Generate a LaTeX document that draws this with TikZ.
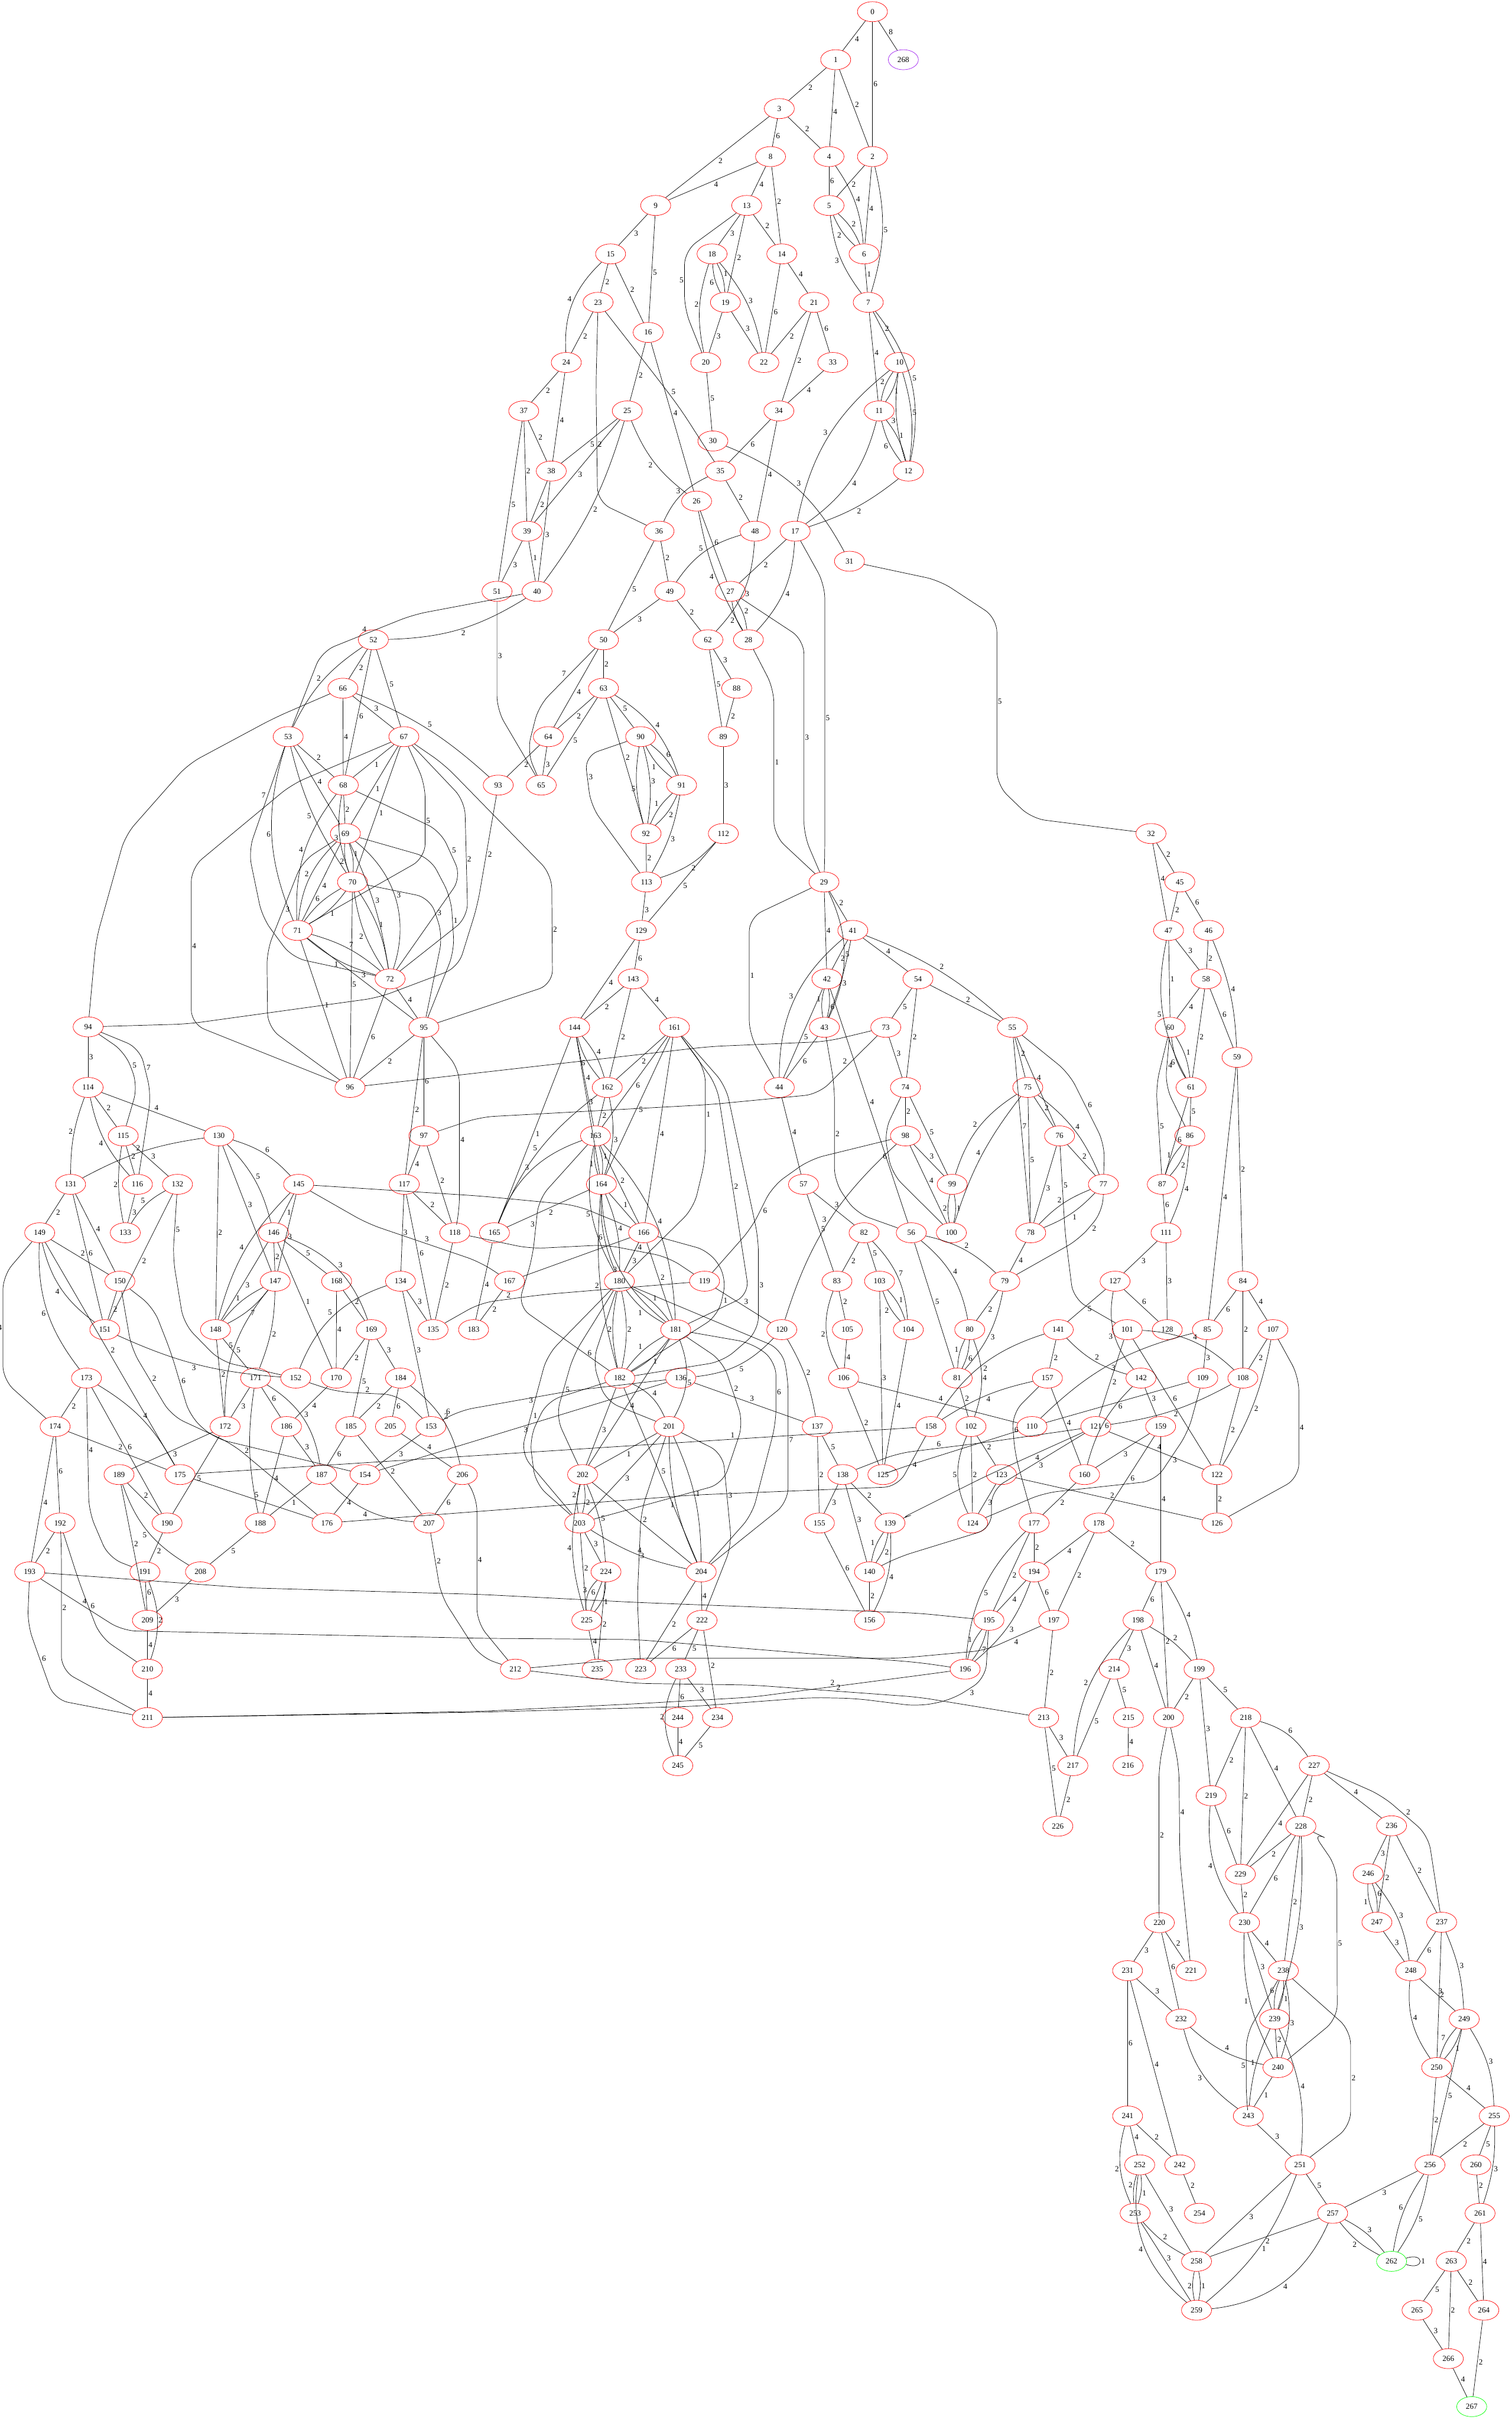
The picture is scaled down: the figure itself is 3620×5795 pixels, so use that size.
\documentclass[tikz,border=0pt]{standalone}
\usepackage{fontspec}
\setmainfont{Liberation Serif}
\usetikzlibrary{shapes.geometric}
\definecolor{gvpurple}{RGB}{160,32,240}
\definecolor{gvgreen}{RGB}{0,255,0}
\tikzset{
 nd/.style={ellipse, draw=red, line width=0.75pt, minimum width=54pt, minimum height=36pt, inner sep=0pt, font=\fontsize{14pt}{14pt}\selectfont},
 lbl/.style={font=\fontsize{14pt}{14pt}\selectfont, inner sep=1.5pt, auto},
 rc/.style={rounded corners=25pt}
}
\newcommand\gn[3]{\node[nd] (n#1) at (#2,#3) {#1};}
\newcommand\edg[3]{\draw (n#1) -- node[lbl]{#3} (n#2);}
\newcommand\edgd[4]{\draw (n#1) to[bend left=12] node[lbl]{#3} (n#2);\draw (n#1) to[bend right=12] node[lbl,swap]{#4} (n#2);}
\newcommand\bl[4]{\draw (n#1) to[bend left=#4] node[lbl]{#3} (n#2);}
\newcommand\br[4]{\draw (n#1) to[bend right=#4] node[lbl,swap]{#3} (n#2);}
\begin{document}
\begin{tikzpicture}[x=0.75pt,y=-0.75pt,line width=0.75pt]
\fill[white] (0,0) rectangle (3620,5795);
\useasboundingbox (0,0) rectangle (3620,5795);
% nodes
\gn{0}{2089}{28}\gn{1}{2001}{143}\gn{2}{2089}{375}\gn{3}{1866}{260}\gn{4}{1985}{375}
\gn{5}{1985}{492}\gn{6}{2069}{608}\gn{7}{2079}{724}\gn{8}{1845}{375}\gn{9}{1570}{492}
\gn{10}{2154}{868}\gn{11}{2105}{984}\gn{12}{2175}{1128}\gn{13}{1788}{492}\gn{14}{1872}{608}
\gn{15}{1462}{608}\gn{16}{1552}{796}\gn{17}{1904}{1272}\gn{18}{1705}{608}\gn{19}{1737}{724}
\gn{20}{1690}{868}\gn{21}{1949}{724}\gn{22}{1829}{868}\gn{23}{1432}{724}\gn{24}{1356}{868}
\gn{25}{1502}{984}\gn{26}{1668}{1200}\gn{27}{1749}{1416}\gn{28}{1792}{1532}\gn{29}{1973}{2112}
\gn{30}{1707}{1056}\gn{31}{2034}{1344}\gn{32}{2756}{1996}\gn{33}{1994}{868}\gn{34}{1865}{984}
\gn{35}{1725}{1128}\gn{36}{1578}{1272}\gn{37}{1254}{984}\gn{38}{1320}{1128}\gn{39}{1262}{1272}
\gn{40}{1286}{1416}\gn{41}{2042}{2228}\gn{42}{1980}{2344}\gn{43}{1974}{2460}\gn{44}{1866}{2604}
\gn{45}{2825}{2112}\gn{46}{2894}{2228}\gn{47}{2798}{2228}\gn{48}{1808}{1272}\gn{49}{1604}{1416}
\gn{50}{1445}{1532}\gn{51}{1190}{1416}\gn{52}{894}{1532}\gn{53}{690}{1764}\gn{54}{2198}{2344}
\gn{55}{2424}{2460}\gn{56}{2182}{2952}\gn{57}{1924}{2836}\gn{58}{2888}{2344}\gn{59}{2962}{2532}
\gn{60}{2802}{2460}\gn{61}{2852}{2604}\gn{62}{1695}{1532}\gn{63}{1445}{1648}\gn{64}{1313}{1764}
\gn{65}{1296}{1880}\gn{66}{821}{1648}\gn{67}{967}{1764}\gn{68}{822}{1880}\gn{69}{827}{1996}
\gn{70}{844}{2112}\gn{71}{712}{2228}\gn{72}{934}{2344}\gn{73}{2121}{2460}\gn{74}{2168}{2604}
\gn{75}{2461}{2604}\gn{76}{2537}{2720}\gn{77}{2642}{2836}\gn{78}{2468}{2952}\gn{79}{2406}{3068}
\gn{80}{2322}{3184}\gn{81}{2292}{3300}\gn{82}{2069}{2952}\gn{83}{2004}{3068}\gn{84}{2976}{3068}
\gn{85}{2891}{3184}\gn{86}{2849}{2720}\gn{87}{2783}{2836}\gn{88}{1764}{1648}\gn{89}{1732}{1764}
\gn{90}{1534}{1764}\gn{91}{1632}{1880}\gn{92}{1547}{1996}\gn{93}{1193}{1880}\gn{94}{211}{2459}
\gn{95}{1015}{2460}\gn{96}{838}{2604}\gn{97}{1015}{2720}\gn{98}{2168}{2720}\gn{99}{2280}{2836}
\gn{100}{2278}{2952}\gn{101}{2699}{3184}\gn{102}{2325}{3416}\gn{103}{2106}{3068}\gn{104}{2175}{3184}
\gn{105}{2029}{3184}\gn{106}{2020}{3300}\gn{107}{3048}{3184}\gn{108}{2976}{3300}\gn{109}{2880}{3300}
\gn{110}{2471}{3416}\gn{111}{2792}{2952}\gn{112}{1732}{1996}\gn{113}{1548}{2112}\gn{114}{211}{2604}
\gn{115}{295}{2720}\gn{116}{329}{2836}\gn{117}{968}{2836}\gn{118}{1089}{2952}\gn{119}{1687}{3068}
\gn{120}{1872}{3184}\gn{121}{2624}{3416}\gn{122}{2914}{3531}\gn{123}{2398}{3531}\gn{124}{2329}{3647}
\gn{125}{2114}{3531}\gn{126}{2914}{3647}\gn{127}{2670}{3068}\gn{128}{2795}{3184}\gn{129}{1535}{2228}
\gn{130}{524}{2720}\gn{131}{169}{2836}\gn{132}{425}{2836}\gn{133}{300}{2952}\gn{134}{959}{3068}
\gn{135}{1037}{3184}\gn{136}{1630}{3300}\gn{137}{1957}{3416}\gn{138}{2018}{3531}\gn{139}{2131}{3647}
\gn{140}{2082}{3764}\gn{141}{2534}{3184}\gn{142}{2732}{3300}\gn{143}{1516}{2344}\gn{144}{1376}{2460}
\gn{145}{715}{2836}\gn{146}{655}{2952}\gn{147}{659}{3068}\gn{148}{516}{3184}\gn{149}{95}{2952}
\gn{150}{287}{3068}\gn{151}{251}{3184}\gn{152}{708}{3300}\gn{153}{1032}{3416}\gn{154}{874}{3531}
\gn{155}{1962}{3647}\gn{156}{2082}{3880}\gn{157}{2508}{3300}\gn{158}{2229}{3416}\gn{159}{2779}{3416}
\gn{160}{2597}{3531}\gn{161}{1615}{2460}\gn{162}{1454}{2604}\gn{163}{1426}{2720}\gn{164}{1440}{2836}
\gn{165}{1184}{2952}\gn{166}{1541}{2952}\gn{167}{1220}{3068}\gn{168}{806}{3068}\gn{169}{889}{3184}
\gn{170}{805}{3300}\gn{171}{612}{3300}\gn{172}{539}{3416}\gn{173}{207}{3300}\gn{174}{132}{3416}
\gn{175}{431}{3531}\gn{176}{783}{3647}\gn{177}{2476}{3647}\gn{178}{2631}{3647}\gn{179}{2779}{3764}
\gn{180}{1483}{3068}\gn{181}{1618}{3184}\gn{182}{1484}{3300}\gn{183}{1134}{3184}\gn{184}{959}{3300}
\gn{185}{840}{3416}\gn{186}{686}{3416}\gn{187}{770}{3531}\gn{188}{623}{3647}\gn{189}{285}{3531}
\gn{190}{400}{3647}\gn{191}{347}{3764}\gn{192}{144}{3647}\gn{193}{71}{3764}\gn{194}{2476}{3764}
\gn{195}{2368}{3880}\gn{196}{2311}{3997}\gn{197}{2523}{3880}\gn{198}{2725}{3880}\gn{199}{2871}{3997}
\gn{200}{2798}{4113}\gn{201}{1602}{3416}\gn{202}{1395}{3531}\gn{203}{1388}{3647}\gn{204}{1679}{3764}
\gn{205}{935}{3416}\gn{206}{1107}{3531}\gn{207}{1027}{3647}\gn{208}{480}{3764}\gn{209}{353}{3880}
\gn{210}{353}{3997}\gn{211}{353}{4113}\gn{212}{1234}{3997}\gn{213}{2499}{4113}\gn{214}{2668}{3997}
\gn{215}{2702}{4113}\gn{216}{2701}{4228}\gn{217}{2569}{4228}\gn{218}{2983}{4113}\gn{219}{2900}{4300}
\gn{220}{2776}{4604}\gn{221}{2852}{4719}\gn{222}{1681}{3880}\gn{223}{1534}{3997}\gn{224}{1451}{3764}
\gn{225}{1405}{3880}\gn{226}{2533}{4373}\gn{227}{3147}{4228}\gn{228}{3115}{4373}\gn{229}{2970}{4488}
\gn{230}{2980}{4604}\gn{231}{2700}{4719}\gn{232}{2828}{4835}\gn{233}{1630}{3997}\gn{234}{1718}{4113}
\gn{235}{1430}{3997}\gn{236}{3332}{4372}\gn{237}{3452}{4603}\gn{238}{3073}{4719}\gn{239}{3052}{4835}
\gn{240}{3060}{4951}\gn{241}{2700}{5067}\gn{242}{2825}{5184}\gn{243}{2989}{5067}\gn{244}{1623}{4113}
\gn{245}{1623}{4228}\gn{246}{3276}{4487}\gn{247}{3297}{4603}\gn{248}{3378}{4719}\gn{249}{3506}{4835}
\gn{250}{3440}{4951}\gn{251}{3113}{5184}\gn{252}{2729}{5184}\gn{253}{2718}{5300}\gn{254}{2872}{5300}
\gn{255}{3578}{5067}\gn{256}{3424}{5184}\gn{257}{3191}{5300}\gn{258}{2865}{5415}\gn{259}{2865}{5532}
\gn{260}{3534}{5184}\gn{261}{3544}{5300}\gn{263}{3475}{5415}\gn{264}{3553}{5532}
\gn{265}{3393}{5532}\gn{266}{3468}{5648}
\node[nd,draw=gvgreen] (n262) at (3332,5415) {262};
\node[nd,draw=gvgreen] (n267) at (3524,5763) {267};
\node[nd,draw=gvpurple] (n268) at (2163,143) {268};
% ---------- edges: top
\edg{0}{1}{4}\edg{0}{268}{8}\edg{0}{2}{6}\edg{1}{3}{2}\edg{1}{4}{4}\edg{1}{2}{2}
\edg{3}{9}{2}\edg{3}{8}{6}\edg{3}{4}{2}\edg{8}{9}{4}\edg{8}{13}{4}\edg{8}{14}{2}
\edg{4}{5}{6}\bl{4}{6}{4}{15}\edg{2}{5}{2}\edg{2}{6}{4}\bl{2}{7}{5}{15}
\edg{9}{15}{3}\edg{9}{16}{5}\edg{13}{18}{3}\edg{13}{19}{2}\edg{13}{14}{2}
\draw[rc] (n13) -- (1639,601) -- node[lbl,swap]{5} (1639,740) -- (n20);
\edgd{5}{6}{2}{2}\br{5}{7}{3}{15}\edg{6}{7}{1}
\br{15}{24}{4}{25}\edg{15}{23}{2}\edg{15}{16}{2}
\edgd{18}{19}{1}{6}\br{18}{20}{2}{15}\bl{18}{22}{3}{15}\edg{14}{22}{6}\edg{14}{21}{4}
\edg{23}{24}{2}
\draw[rc] (n23) -- (1427,925) -- node[lbl]{2} (1431,1202) -- (n36);
\draw[rc] (n23) -- (1581,915) -- node[lbl]{5} (1630,980) -- (n35);
\edg{19}{20}{3}\edg{19}{22}{3}\edg{21}{22}{2}\edg{21}{34}{2}\edg{21}{33}{6}
\edg{7}{10}{2}\edg{7}{11}{4}\bl{7}{12}{5}{25}\edg{16}{25}{2}\edg{16}{26}{4}
\edg{24}{37}{2}\edg{24}{38}{4}\edg{20}{30}{5}\edg{33}{34}{4}
\edgd{10}{11}{1}{2}\edgd{10}{12}{5}{3}\br{10}{17}{3}{20}\edgd{11}{12}{1}{6}
\bl{11}{17}{4}{20}\bl{12}{17}{2}{10}
\edg{37}{38}{2}\edg{37}{39}{2}\edg{37}{51}{5}\edg{25}{38}{5}\edg{25}{39}{3}
\bl{25}{40}{2}{10}\br{25}{26}{2}{15}\edg{34}{35}{6}\edg{34}{48}{4}\bl{30}{31}{3}{20}
\edg{38}{39}{2}\edg{38}{40}{3}\br{35}{36}{3}{20}\edg{35}{48}{2}\edg{26}{27}{6}
\br{26}{28}{4}{10}\edg{39}{51}{3}\edg{39}{40}{1}\edg{36}{49}{2}\edg{36}{50}{5}
\br{48}{49}{5}{20}\bl{48}{62}{3}{20}\edg{17}{27}{2}\bl{17}{28}{4}{20}
\draw[rc] (n17) -- (1975,1400) -- node[lbl]{5} (1975,2040) -- (n29);
\draw[rc] (n27) -- (1925,1532) -- node[lbl]{3} (1925,2000) -- (n29);
\edgd{27}{28}{2}{2}
\draw[rc] (n28) -- (1853,1650) -- node[lbl]{1} (1853,2000) -- (n29);
\draw[rc] (n31) -- (2250,1390) -- (2387,1480) -- node[lbl]{5} (2387,1880) -- (2470,1960) -- (n32);
% ---------- crop 2
\draw[rc] (n40) -- (989,1472) -- node[lbl,swap]{4} (770,1560) -- (n53);
\bl{40}{52}{2}{15}
\draw[rc] (n51) -- node[lbl]{3} (1190,1700) -- (n65);
\edg{49}{50}{3}\edg{49}{62}{2}\br{52}{53}{2}{15}\edg{52}{66}{2}\edg{52}{68}{6}\edg{52}{67}{5}
\edg{66}{67}{3}\edg{66}{68}{4}\bl{66}{93}{5}{10}
\draw[rc] (n66) -- (657,1719) -- (450,1830) -- (300,2000) -- (230,2250) -- (n94);
\edg{50}{63}{2}\edg{50}{64}{4}
\draw[rc] (n50) -- node[lbl,swap]{7} (1290,1690) -- (1262,1800) -- (n65);
\edg{62}{89}{5}\edg{62}{88}{3}\edg{88}{89}{2}\edg{63}{64}{2}\edg{63}{65}{5}\edg{63}{90}{5}
\bl{63}{91}{4}{20}\edg{63}{92}{2}\edg{53}{68}{2}\edg{53}{69}{4}\br{53}{70}{5}{10}\br{53}{71}{6}{20}
\draw[rc] (n53) -- node[lbl,swap]{7} (595,2038) -- (628,2197) -- (699,2293) -- (n72);
\edg{67}{68}{1}\edg{67}{69}{1}\edg{67}{70}{1}
\draw[rc] (n67) -- (1018,1878) -- node[lbl]{5} (1018,2054) -- (n71);
\draw[rc] (n67) -- (1113,1918) -- node[lbl]{2} (1120,2197) -- (n72);
\draw[rc] (n67) -- (1063,1830) -- (1321,2094) -- node[lbl]{2} (1323,2357) -- (n95);
\draw[rc] (n67) -- (699,1878) -- (458,2078) -- node[lbl]{4} (458,2452) -- (n96);
\edg{64}{65}{3}\edg{64}{93}{2}\edgd{90}{91}{6}{1}\edgd{90}{92}{3}{5}
\draw[rc] (n90) -- (1400,1810) -- node[lbl]{3} (1415,1930) -- (n113);
\edgd{91}{92}{2}{1}\bl{91}{113}{3}{10}\edg{89}{112}{3}\edg{68}{69}{2}\br{68}{70}{3}{15}\br{68}{71}{4}{20}
\draw[rc] (n68) -- (1055,1990) -- node[lbl]{5} (1105,2100) -- (n72);
\draw[rc] (n93) -- node[lbl]{2} (1143,2169) -- (1097,2317) -- (906,2389) -- (450,2452) -- (n94);
\edg{92}{113}{2}\bl{112}{113}{2}{15}\edg{112}{129}{5}\edg{113}{129}{3}
\edgd{69}{70}{1}{2}\br{69}{71}{2}{20}\edg{69}{71}{4}\bl{69}{72}{3}{8}\bl{69}{72}{3}{35}
\draw[rc] (n69) -- (1030,2054) -- (1080,2150) -- node[lbl]{1} (1088,2277) -- (n95);
\draw[rc] (n69) -- (724,2062) -- node[lbl]{3} (639,2277) -- (641,2460) -- (n96);
\edgd{70}{71}{1}{6}\edgd{70}{72}{1}{2}
\draw[rc] (n70) -- (1030,2150) -- node[lbl]{3} (1060,2240) -- (n95);
\edg{70}{96}{5}\edgd{71}{72}{7}{1}\edg{71}{95}{3}\edg{71}{96}{1}\edg{72}{95}{4}\edg{72}{96}{6}
\edg{129}{143}{6}\edg{129}{144}{4}\edg{143}{144}{2}\edg{143}{162}{2}\edg{143}{161}{4}
\edg{95}{96}{2}\edg{95}{97}{6}\edg{95}{117}{2}
\draw[rc] (n95) -- (1100,2560) -- node[lbl]{4} (1100,2900) -- (n118);
\edgd{144}{162}{4}{6}\edg{144}{163}{4}\edg{144}{164}{3}\edg{144}{165}{1}
\edg{161}{162}{2}\edg{161}{163}{6}\edg{161}{164}{5}\edg{161}{166}{4}
\draw[rc] (n161) -- (1689,2560) -- node[lbl]{1} (1689,2776) -- (1661,2893) -- (n180);
\draw[rc] (n161) -- (1717,2600) -- node[lbl]{2} (1794,3100) -- (n181);
\draw[rc] (n161) -- (1738,2600) -- (1816,2967) -- node[lbl]{3} (1816,3187) -- (1731,3260) -- (n182);
% ---------- crop 5
\edg{162}{163}{2}\bl{162}{164}{3}{15}\br{162}{165}{5}{15}\br{163}{165}{3}{25}
\edgd{163}{164}{1}{1}\edg{163}{166}{2}\br{163}{180}{5}{20}\bl{163}{181}{4}{20}
\draw[rc] (n163) -- (1290,2871) -- node[lbl,swap]{3} (1275,3011) -- (1240,3128) -- (n182);
\edg{164}{165}{2}\edg{164}{166}{1}\edgd{164}{180}{4}{6}\br{164}{181}{3}{25}\br{164}{182}{2}{10}
\draw (n166) -- (n167);
\edg{166}{180}{3}\edg{166}{181}{2}
\draw[rc] (n166) -- (1700,2996) -- (1740,3060) -- node[lbl]{1} (1720,3150) -- (n182);
\edg{167}{183}{2}\edg{165}{183}{4}\edg{119}{120}{3}
\draw[rc] (n119) -- (1800,2940) -- node[lbl,swap]{6} (1850,2840) -- (1940,2776) -- (n98);
\edgd{180}{181}{1}{1}\edgd{180}{182}{2}{2}
\draw[rc] (n180) -- (1419,3260) -- (1450,3355) -- (n201);
\path (1419,3240) node[lbl,left]{6};
\draw[rc] (n180) -- (1373,3245) -- node[lbl]{5} (1331,3392) -- (n202);
\draw[rc] (n180) -- (1310,3245) -- node[lbl,swap]{3} (1247,3480) -- (n203);
\draw[rc] (n180) -- (1872,3231) -- (1887,3300) -- node[lbl]{7} (1887,3597) -- (n204);
\edgd{181}{182}{1}{1}\edg{181}{202}{4}\bl{181}{201}{5}{25}
\draw[rc] (n181) -- (1731,3260) -- node[lbl]{2} (1780,3407) -- (1731,3553) -- (n203);
\draw[rc] (n181) -- (1801,3216) -- (1858,3260) -- node[lbl]{6} (1858,3407) -- (1801,3627) -- (n204);
\edg{182}{202}{3}
\draw[rc] (n182) -- (1310,3355) -- node[lbl,swap]{1} (1268,3443) -- (1282,3553) -- (n203);
\bl{182}{201}{4}{20}\edg{182}{204}{5}\bl{120}{136}{5}{20}\edg{136}{137}{3}
\edg{201}{202}{1}\edg{201}{203}{3}\edgd{201}{204}{1}{1}
\draw[rc] (n201) -- (1731,3480) -- node[lbl]{3} (1752,3700) -- (n222);
\draw[rc] (n201) -- (1535,3620) -- node[lbl]{3} (1526,3830) -- (n223);
\edgd{202}{203}{2}{2}\br{202}{225}{4}{15}\bl{202}{224}{5}{10}\edg{202}{204}{2}
\edg{203}{225}{2}\edg{203}{224}{3}\draw (n203) to[bend right=10] node[lbl]{4} (n204);
\edg{44}{57}{4}\edg{57}{82}{3}\edg{57}{83}{5}\edg{82}{83}{2}\edg{82}{103}{5}\bl{82}{104}{7}{20}
\edg{83}{105}{2}\br{83}{106}{2}{25}\edg{105}{106}{4}\edgd{103}{104}{1}{2}\edg{103}{125}{3}
\edg{104}{125}{4}\edg{106}{125}{2}\edg{106}{110}{4}\bl{120}{137}{2}{10}
\edg{137}{138}{5}\edg{137}{155}{2}\edg{138}{155}{3}\edg{138}{139}{2}\edg{138}{140}{3}
\edgd{139}{140}{2}{1}\bl{139}{156}{4}{15}\edg{155}{156}{6}\edg{140}{156}{2}\br{98}{120}{3}{15}
\draw[rc] (n74) -- (2117,2710) -- node[lbl,swap]{6} (2135,2810) -- (n100);
\draw[rc] (n206) -- (1142,3585) -- node[lbl]{4} (1142,3885) -- (n212);
% ---------- crop 3
\edg{32}{47}{4}\edg{32}{45}{2}\edg{45}{47}{2}\edg{45}{46}{6}\edg{47}{58}{3}\edg{47}{60}{1}
\br{47}{61}{5}{20}\edg{46}{58}{2}\bl{46}{59}{4}{10}\edg{58}{60}{4}\edg{58}{61}{2}\edg{58}{59}{6}
\edgd{60}{61}{1}{6}
\draw[rc] (n60) -- (2768,2600) -- node[lbl]{5} (n87);
\draw[rc] (n60) -- node[lbl]{4} (2790,2600) -- (n86);
\edg{29}{41}{2}\edg{29}{42}{4}\bl{29}{43}{5}{25}
\draw[rc] (n29) -- (1794,2197) -- node[lbl]{1} (1794,2476) -- (n44);
\edg{41}{42}{2}\bl{41}{43}{3}{5}\br{41}{44}{3}{25}\edg{41}{54}{4}\bl{41}{55}{2}{10}
\edgd{42}{43}{6}{1}\edg{42}{44}{5}\edg{42}{56}{4}\edg{43}{44}{6}
\draw[rc] (n43) -- (1998,2600) -- node[lbl]{2} (1998,2830) -- (2050,2905) -- (n56);
\edg{54}{73}{5}\edg{54}{74}{2}\edg{54}{55}{2}\edg{73}{74}{3}
\draw[rc] (n73) -- (1980,2494) -- (1700,2506) -- (n96);
\draw[rc] (n73) -- node[lbl,swap]{2} (1960,2620) -- (1700,2645) -- (1150,2675) -- (n97);
\edg{55}{75}{2}\edg{55}{78}{7}\edg{55}{76}{4}
\draw[rc] (n55) -- (2560,2570) -- node[lbl]{6} (2645,2740) -- (n77);
% ---------- crop 4
\edg{114}{115}{2}\br{114}{131}{2}{10}\br{114}{116}{4}{15}\edg{114}{130}{4}
\edg{94}{114}{3}
\draw[rc] (n94) -- (300,2520) -- node[lbl]{5} (330,2600) -- (n115);
\draw[rc] (n94) -- (335,2510) -- node[lbl]{7} (362,2620) -- (n116);
\edg{97}{117}{4}\edg{97}{118}{2}
\br{130}{131}{2}{10}\edg{130}{148}{2}\edg{130}{147}{3}\bl{130}{146}{5}{15}\bl{130}{145}{6}{15}
\edg{115}{116}{2}\br{115}{133}{2}{10}\edg{115}{132}{3}\edg{116}{133}{3}\br{132}{133}{5}{15}
\edg{132}{151}{2}
\draw[rc] (n132) -- node[lbl]{5} (414,3011) -- (440,3170) -- (528,3260) -- (n152);
\edg{131}{149}{2}\edg{131}{151}{6}\edg{131}{150}{4}
\edg{145}{146}{1}\edg{145}{147}{3}\br{145}{148}{4}{15}
\draw[rc] (n145) -- (1150,2864) -- (1380,2886) -- (n166);
\draw[rc] (n145) -- (880,2930) -- node[lbl]{3} (1150,3022) -- (n167);
\edg{146}{147}{2}\edg{146}{148}{3}\edg{146}{170}{1}\edg{146}{168}{5}\bl{146}{169}{3}{25}
\edgd{147}{148}{7}{1}\br{147}{172}{5}{20}\bl{147}{171}{2}{10}
\edg{117}{134}{3}\edg{117}{135}{6}\edg{117}{118}{2}\edg{118}{135}{2}
\draw[rc] (n118) -- (1270,2990) -- (1450,2981) -- node[lbl]{4} (1600,3010) -- (n119);
\edg{149}{150}{2}\br{149}{151}{4}{20}\br{149}{173}{6}{20}
\draw[rc] (n149) -- (7,3055) -- node[lbl,swap]{4} (7,3304) -- (n174);
\edg{149}{175}{2}\edg{150}{151}{2}
\draw[rc] (n150) -- (315,3230) -- node[lbl]{2} (410,3390) -- (557,3458) -- (n176);
\draw[rc] (n150) -- (367,3130) -- (410,3240) -- node[lbl]{6} (455,3392) -- (513,3444) -- (n154);
\br{151}{152}{3}{10}\edg{148}{172}{2}\edg{148}{171}{5}\edg{168}{170}{4}\edg{168}{169}{2}
\edg{134}{135}{3}\br{134}{152}{5}{25}\edg{134}{153}{3}
\draw[rc] (n119) -- (1300,3100) -- node[lbl,swap]{2} (1150,3120) -- (n135);
\edg{169}{170}{2}\edg{169}{184}{3}\edg{169}{185}{5}\edg{171}{172}{3}\edg{171}{186}{6}
\bl{171}{187}{3}{25}\br{171}{188}{2}{10}
\draw[rc] (n152) -- (807,3333) -- node[lbl]{2} (953,3340) -- (n153);
\edg{170}{186}{4}\edg{184}{185}{2}\edg{184}{205}{6}\bl{184}{206}{2}{20}
\edg{173}{174}{2}\bl{173}{175}{4}{15}\edg{173}{190}{6}
\draw[rc] (n173) -- node[lbl]{4} (213,3620) -- (260,3730) -- (n191);
\edg{174}{175}{2}\edg{174}{192}{6}\edg{174}{193}{4}\edg{172}{189}{3}\edg{172}{190}{5}
\edg{186}{187}{3}\edg{186}{188}{4}\edg{185}{187}{6}\edg{185}{207}{2}\edg{205}{206}{4}\edg{153}{154}{3}
\draw[rc] (n153) -- node[lbl]{6} (1100,3378) -- (1370,3330) -- (n136);
\draw (n175) -- node[lbl,pos=0.75]{1} (n158);
\edg{175}{176}{5}\edg{187}{188}{1}\br{187}{207}{4}{20}\edg{154}{176}{4}\edg{136}{154}{3}
\edg{206}{207}{6}\edg{189}{190}{2}\br{189}{208}{5}{20}\edg{189}{209}{2}\edg{188}{208}{5}
\edg{190}{191}{2}\edg{192}{193}{2}
\draw[rc] (n192) -- (147,3700) -- node[lbl]{2} (147,4000) -- (n211);
\draw[rc] (n192) -- (190,3790) -- node[lbl]{6} (240,3920) -- (n210);
\draw[rc] (n176) -- (1660,3580) -- (2150,3560) -- node[lbl,swap]{4} (n158);
% ---------- crop 6
\edg{74}{98}{2}\edg{74}{99}{5}\br{75}{99}{2}{20}\br{75}{100}{4}{10}\edg{75}{78}{5}\edg{75}{76}{2}
\bl{75}{77}{4}{15}\edg{98}{99}{3}\edg{98}{100}{4}\edg{76}{77}{2}\edg{76}{78}{3}
\draw[rc] (n76) -- node[lbl]{5} (2550,2950) -- (2570,3110) -- (n101);
\edgd{77}{78}{1}{2}
\draw[rc] (n77) -- (2641,2900) -- node[lbl]{2} (2585,2967) -- (n79);
\edgd{99}{100}{1}{2}\edg{61}{86}{5}\edg{61}{87}{6}\edg{59}{85}{4}\edg{59}{84}{2}
\edgd{86}{87}{2}{1}\bl{86}{111}{4}{10}\edg{87}{111}{6}\edg{78}{79}{4}\edg{79}{80}{2}\bl{79}{81}{3}{15}
\bl{56}{79}{2}{15}\bl{56}{80}{4}{20}\edg{56}{81}{5}\edg{111}{127}{3}\edg{111}{128}{3}
\edg{127}{141}{5}\br{127}{142}{3}{25}\edg{127}{128}{6}\edg{84}{85}{6}\edg{84}{108}{2}\edg{84}{107}{4}
\edgd{80}{81}{6}{1}\bl{80}{102}{4}{20}\edg{141}{157}{2}\draw (n141) to[bend right=15] node[lbl]{2} (n142);
\draw (n141) to[bend right=20] node[lbl]{2} (n158);
\edg{101}{121}{2}\bl{101}{108}{4}{20}\edg{101}{122}{6}\edg{85}{109}{3}
\draw (n85) to[bend right=15] node[lbl]{3} (n110);
\edg{107}{108}{2}\bl{107}{122}{2}{10}
\draw[rc] (n107) -- (3110,3297) -- node[lbl]{4} (3110,3539) -- (n126);
\edg{81}{102}{2}\edg{157}{160}{4}
\draw[rc] (n157) -- (2423,3385) -- node[lbl]{6} (2430,3480) -- (n177);
\draw (n157) to[bend right=10] node[lbl]{4} (n158);
\edg{142}{159}{3}\draw (n142) to[bend right=15] node[lbl]{6} (n160);
\edg{109}{110}{6}
\draw[rc] (n109) -- (2845,3429) -- node[lbl]{3} (2767,3546) -- (2500,3575) -- (n124);
\bl{108}{121}{2}{10}\edg{108}{122}{2}\edg{121}{122}{4}
\draw[rc] (n121) -- (2360,3454) -- node[lbl,swap]{6} (2150,3480) -- (n138);
\draw[rc] (n121) -- node[lbl]{4} (2360,3535) -- (2150,3640) -- (n139);
\draw[rc] (n121) -- node[lbl]{3} (2374,3568) -- (2374,3660) -- (2150,3729) -- (n140);
\draw[rc] (n110) -- (2150,3517) -- (n125);
\edg{159}{160}{3}\edg{159}{178}{6}\edg{159}{179}{4}\edg{102}{123}{2}
\draw (n102) -- node[lbl]{2} (n124);\br{102}{124}{5}{25}
\edg{123}{124}{3}\edg{123}{126}{2}\edg{122}{126}{2}\edg{160}{177}{2}
\edg{178}{194}{4}\edg{178}{179}{2}\edg{178}{197}{2}\edg{177}{194}{2}\edg{177}{195}{2}
\draw (n177) to[bend right=20] node[lbl]{5} (n196);
% ---------- crops 7,8,9
\draw (n224) to[bend right=25] node[lbl,swap]{3} (n225);
\draw (n224) -- node[lbl,swap]{6} (n225);
\draw (n224) to[bend left=20] node[lbl]{1} (n225);
\edg{224}{235}{2}\edg{225}{235}{4}\edg{204}{222}{4}\edg{204}{223}{2}\edg{222}{223}{6}
\edg{222}{233}{5}\edg{222}{234}{2}\edg{233}{244}{6}\edg{233}{234}{3}\br{233}{245}{2}{25}
\edg{244}{245}{4}\edg{234}{245}{5}
\draw[rc] (n207) -- node[lbl]{2} (1056,3821) -- (1150,3968) -- (n212);
\draw[rc] (n193) -- (587,3802) -- (1150,3818) -- (1521,3837) -- (2200,3863) -- (n195);
\draw[rc] (n193) -- node[lbl]{4} (293,3905) -- (1150,3923) -- (1521,3926) -- (2200,3981) -- (n196);
\draw[rc] (n211) -- (1150,4098) -- (1521,4080) -- (1801,4064) -- node[lbl]{2} (2200,4012) -- (n196);
\draw[rc] (n211) -- (1150,4100) -- (1661,4086) -- (1942,4065) -- (2047,4067) -- (2200,4086) -- (2280,4070) -- node[lbl,swap]{3} (2360,4019) -- (n195);
\draw[rc] (n212) -- (1521,4031) -- (1801,4035) -- node[lbl]{2} (2200,4064) -- (n213);
\draw[rc] (n197) -- node[lbl]{4} (2360,3952) -- (2150,3971) -- (1521,3971) -- (n212);
\edg{191}{209}{6}\bl{191}{210}{2}{20}\edg{208}{209}{3}\edg{209}{210}{4}\edg{210}{211}{4}
\draw[rc] (n193) -- (66,3890) -- node[lbl]{6} (130,4070) -- (n211);
\edg{194}{195}{4}\bl{194}{196}{3}{15}\edg{194}{197}{6}\edgd{195}{196}{7}{1}\edg{197}{213}{2}
\edg{198}{214}{3}\br{198}{217}{2}{20}\edg{198}{200}{4}\bl{198}{199}{2}{10}\edg{179}{198}{6}
\edg{179}{200}{2}\bl{179}{199}{4}{10}\edg{213}{217}{3}\edg{213}{226}{5}\edg{214}{217}{5}
\edg{214}{215}{5}\edg{215}{216}{4}\edg{199}{200}{2}\edg{199}{219}{3}\edg{199}{218}{5}\edg{217}{226}{2}
\draw[rc] (n200) -- (2775,4230) -- node[lbl]{2} (2775,4560) -- (n220);
\draw[rc] (n200) -- (2823,4230) -- node[lbl]{4} (2825,4450) -- (n221);
\edg{218}{219}{2}\edg{218}{229}{2}\edg{218}{228}{4}\bl{218}{227}{6}{20}\edg{227}{228}{2}
\edg{227}{229}{4}\edg{227}{236}{4}
\draw[rc] (n227) -- (3310,4300) -- node[lbl]{2} (3420,4395) -- (n237);
\edg{219}{229}{6}\br{219}{230}{4}{20}\edg{228}{229}{2}\edg{228}{230}{6}\edg{228}{238}{2}\bl{228}{239}{3}{10}
\draw[rc] (n228) -- (3142,4386) -- (3201,4472) -- node[lbl]{5} (3202,4834) -- (n240);
\edg{229}{230}{2}\edg{220}{231}{3}\edg{220}{221}{2}\edg{220}{232}{6}
% ---------- crop 12
\edg{236}{246}{3}\edg{236}{247}{2}\edg{236}{237}{2}\edgd{246}{247}{6}{1}\bl{246}{248}{3}{15}
\edg{247}{248}{3}\edg{237}{248}{6}\edg{237}{250}{2}\bl{237}{249}{3}{10}\edg{230}{238}{4}
\edg{230}{239}{3}\br{230}{240}{1}{15}\edg{231}{232}{3}\edg{231}{241}{6}\edg{231}{242}{4}
\draw (n232) to[bend right=15] node[lbl]{4} (n240);\br{232}{243}{3}{20}\edgd{238}{239}{1}{6}
\bl{238}{240}{3}{15}
\draw[rc] (n238) -- (2984,4872) -- node[lbl,swap]{5} (2984,5020) -- (n243);
\draw[rc] (n238) -- (3234,4862) -- node[lbl]{2} (3234,5091) -- (n251);
\edg{239}{240}{2}\br{239}{243}{1}{10}\bl{239}{251}{4}{15}\edg{240}{243}{1}
\draw (n248) to[bend right=20] node[lbl]{4} (n250);\edg{248}{249}{3}\edgd{249}{250}{1}{7}
\edg{249}{256}{5}\bl{249}{255}{3}{15}\edg{250}{255}{4}\edg{250}{256}{2}\edg{241}{252}{4}
\edg{241}{242}{2}\br{241}{253}{2}{20}\edg{243}{251}{3}\edg{242}{254}{2}\edg{255}{256}{2}
\edg{255}{260}{5}\bl{255}{261}{3}{10}\edgd{252}{253}{1}{2}\edg{252}{258}{3}\br{252}{259}{4}{30}
\edg{251}{257}{5}\edg{251}{258}{3}\bl{251}{259}{1}{15}\edg{256}{257}{3}\edgd{256}{262}{5}{6}
\edg{260}{261}{2}\draw (n253) to[bend right=10] node[lbl]{2} (n258);\edg{253}{259}{3}\edg{257}{258}{2}
\edgd{257}{262}{3}{2}\bl{257}{259}{4}{30}\edg{261}{263}{2}\edg{261}{264}{4}\edgd{258}{259}{1}{2}
\edg{263}{265}{5}\edg{263}{266}{2}\edg{263}{264}{2}\edg{265}{266}{3}\edg{264}{267}{2}\edg{266}{267}{4}
\draw (n262.12) .. controls +(45,-16) and +(45,16) .. (n262.-12) node[lbl,right,pos=0.5]{1};
\end{tikzpicture}
\end{document}
